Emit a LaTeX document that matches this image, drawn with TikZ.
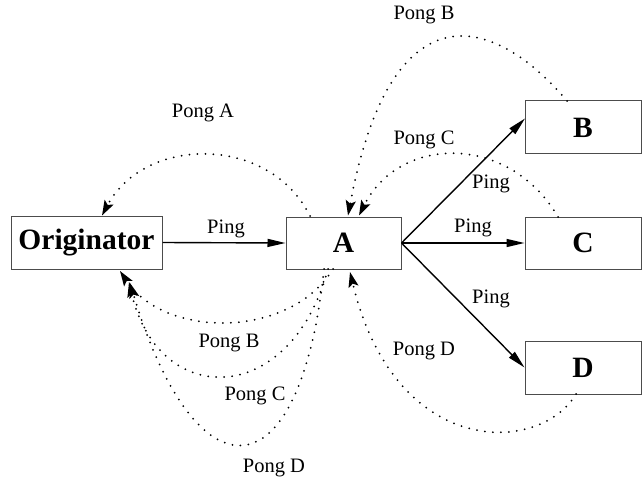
\documentclass[tikz,border=0pt]{standalone}
\usepackage{fontspec}
\setmainfont{Liberation Serif}
\usetikzlibrary{arrows.meta}
\begin{document}
\begin{tikzpicture}[x=1pt,y=-1pt,
  box/.style={draw=black!70,line width=1pt,minimum height=53pt,inner sep=0pt,
    font=\fontsize{29.5}{32}\selectfont\bfseries},
  lbl/.style={font=\fontsize{20.5}{24}\selectfont,inner sep=0pt},
  ping/.style={line width=1.4pt,-{Triangle[length=18pt,width=8pt]}},
  pong/.style={line width=2pt,dash pattern=on 0pt off 8pt,line cap=round,
    -{Stealth[length=15pt,width=10pt,inset=3pt]}}]
\useasboundingbox (0,0) rectangle (644,481);
\node[box,minimum width=151pt] (O) at (86.5,242.5) {Originator};
\node[box,minimum width=115pt,minimum height=52pt] (A) at (343.5,243) {A};
\node[box,minimum width=116pt] (B) at (583,127.5) {B};
\node[box,minimum width=116pt,minimum height=52pt] (C) at (583,243) {C};
\node[box,minimum width=116pt] (D) at (583,367.5) {D};
% ping arrows
\coordinate (Bin) at (525,118.5);
\draw[ping] (O.east) -- (A.west);
\draw[ping] (A.east) -- (Bin);
\draw[ping] (A.east) -- (C.west);
\draw[ping] (A.east) -- (D.west);
\node[lbl] (p1) at (226,229) {Ping};
\node[lbl] (p2) at (491,184) {Ping};
\node[lbl] (p3) at (473,228) {Ping};
\node[lbl] (p4) at (491,299) {Ping};
% pong curves
\coordinate (aA) at (310,216);
\coordinate (oA) at (102,215.5);
\draw[pong] (aA) .. controls (270,135) and (145,135) .. (oA);
\coordinate (bB) at (567,101);
\coordinate (aB) at (348,215.5);
\draw[pong] (bB) .. controls (490,10) and (390,-10) .. (aB);
\coordinate (cC) at (558,217);
\coordinate (aC) at (359,215.5);
\draw[pong] (cC) .. controls (510,134) and (400,134) .. (aC);
\coordinate (dD) at (576,394);
\coordinate (aD) at (350,272);
\draw[pong] (dD) .. controls (540,455) and (395,460) .. (aD);
\coordinate (a1) at (333,269);
\coordinate (a2) at (328,269);
\coordinate (a3) at (324,269);
\coordinate (o1) at (120,271);
\coordinate (o2) at (129,282);
\coordinate (o3) at (130,283);
\draw[pong] (a1) .. controls (290,339) and (165,339) .. (o1);
\draw[pong] (a2) .. controls (290,409) and (158,409) .. (o2);
\draw[pong] (a3) .. controls (300,500) and (195,500) .. (o3);
% pong labels
\node[lbl] (lA) at (203,113) {Pong A};
\node[lbl] (lB1) at (424,15) {Pong B};
\node[lbl] (lC1) at (424,140) {Pong C};
\node[lbl] (lD1) at (424,351) {Pong D};
\node[lbl] (lB2) at (229,343) {Pong B};
\node[lbl] (lC2) at (255,396) {Pong C};
\node[lbl] (lD2) at (274,468) {Pong D};
\end{tikzpicture}
\end{document}
